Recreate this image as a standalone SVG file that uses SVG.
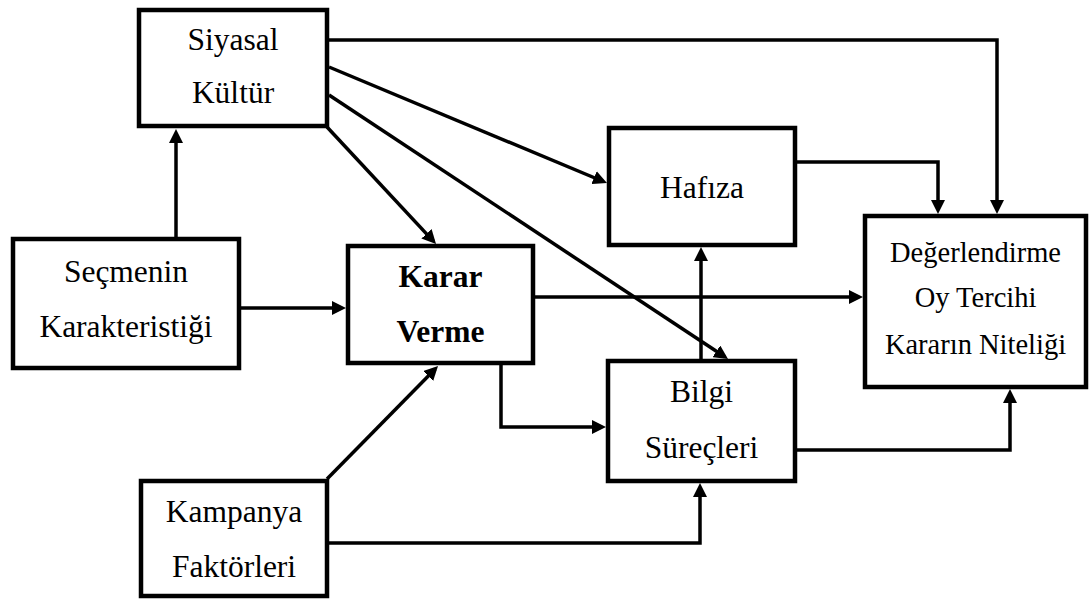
<svg xmlns="http://www.w3.org/2000/svg" width="1091" height="603" viewBox="0 0 1091 603">
  <style>
    .box { fill: #ffffff; stroke: #000000; stroke-width: 4.5; }
    .lbl { font-family: 'Liberation Serif', 'Times New Roman', serif; font-size: 31.5px; fill: #000000; text-anchor: middle; }
    .sm { font-size: 28.5px; }
    .bold { font-weight: bold; }
    .wire { fill: none; stroke: #000000; stroke-width: 3.5; stroke-linejoin: miter; }
    .arrow { marker-end: url(#head); }
  </style>
  <defs>
    <!-- filled triangular arrowhead; tip sits 4px past the end of each path -->
    <marker id="head" markerUnits="userSpaceOnUse" markerWidth="15" markerHeight="14" refX="10" refY="7" orient="auto">
      <path d="M0,0 L14,7 L0,14 Z" fill="#000000"/>
    </marker>
  </defs>

  <rect width="1091" height="603" fill="#ffffff"/>

  <g id="connectors">
    <path class="wire arrow" d="M176,237 V133"/>
    <path class="wire arrow" d="M241,308 H342"/>
    <path class="wire arrow" d="M327,127 L433.3,241.1"/>
    <path class="wire arrow" d="M329,95 L724.7,356.8"/>
    <path class="wire arrow" d="M329,67 L603.3,181.5"/>
    <path class="wire arrow" d="M329,40 H997 V210"/>
    <path class="wire arrow" d="M327,479 L435.2,368.9"/>
    <path class="wire arrow" d="M329,543 H700 V487"/>
    <path class="wire arrow" d="M501,363 V427 H602"/>
    <path class="wire arrow" d="M535,297 H859"/>
    <path class="wire arrow" d="M701,359 V251"/>
    <path class="wire arrow" d="M797,162 H938 V210"/>
    <path class="wire arrow" d="M797,450 H1010 V393"/>
  </g>

  <g id="siyasal-kultur">
    <rect class="box" x="139" y="10" width="188" height="116"/>
    <text class="lbl" x="233" y="50">Siyasal</text>
    <text class="lbl" x="233" y="103">Kültür</text>
  </g>

  <g id="secmenin-karakteristigi">
    <rect class="box" x="13" y="239" width="226" height="129"/>
    <text class="lbl" x="126" y="282">Seçmenin</text>
    <text class="lbl" x="126" y="337">Karakteristiği</text>
  </g>

  <g id="karar-verme">
    <rect class="box" x="348" y="246" width="185" height="117"/>
    <text class="lbl bold" x="440.5" y="287">Karar</text>
    <text class="lbl bold" x="440.5" y="342">Verme</text>
  </g>

  <g id="hafiza">
    <rect class="box" x="609" y="128" width="186" height="117"/>
    <text class="lbl" x="702" y="198">Hafıza</text>
  </g>

  <g id="bilgi-surecleri">
    <rect class="box" x="608" y="361" width="187" height="120"/>
    <text class="lbl" x="701.5" y="402">Bilgi</text>
    <text class="lbl" x="701.5" y="458">Süreçleri</text>
  </g>

  <g id="degerlendirme">
    <rect class="box" x="865" y="216" width="221" height="171"/>
    <text class="lbl sm" x="975.5" y="262">Değerlendirme</text>
    <text class="lbl sm" x="975.5" y="307">Oy Tercihi</text>
    <text class="lbl sm" x="975.5" y="354">Kararın Niteliği</text>
  </g>

  <g id="kampanya-faktorleri">
    <rect class="box" x="141" y="481" width="186" height="115"/>
    <text class="lbl" x="234" y="522">Kampanya</text>
    <text class="lbl" x="234" y="577">Faktörleri</text>
  </g>
</svg>
